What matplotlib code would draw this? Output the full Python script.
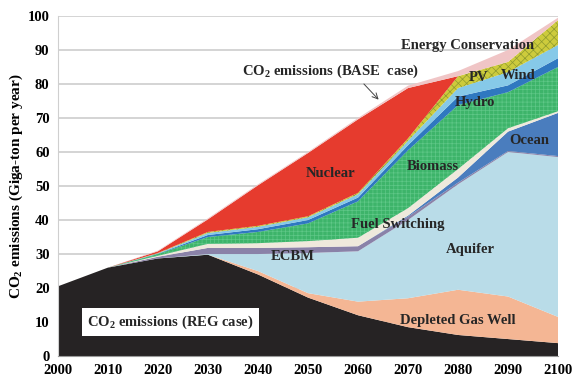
import matplotlib
matplotlib.use("Agg")
import matplotlib.pyplot as plt

plt.rcParams["font.family"] = ["Liberation Serif", "DejaVu Serif"]
plt.rcParams["font.weight"] = "bold"
plt.rcParams["mathtext.fontset"] = "custom"
plt.rcParams["mathtext.rm"] = "Liberation Serif:bold"
plt.rcParams["mathtext.it"] = "Liberation Serif:bold"
plt.rcParams["mathtext.bf"] = "Liberation Serif:bold"
plt.rcParams["mathtext.default"] = "rm"
plt.rcParams["hatch.linewidth"] = 0.5

# decades on the x axis
years = [2000, 2010, 2020, 2030, 2040, 2050, 2060, 2070, 2080, 2090, 2100]

# layer thicknesses (Gt CO2 / year), bottom to top
reg_case = [20.5, 26.0, 28.7, 29.8, 24.0, 17.2, 12.0, 8.5, 6.2, 5.0, 3.8]
depleted_gas = [0, 0, 0, 0, 1.0, 1.3, 4.0, 8.5, 13.3, 12.5, 7.7]
aquifer = [0, 0, 0, 0.2, 5.0, 11.8, 14.8, 23.0, 31.0, 42.5, 47.0]
ecbm = [0, 0, 0.5, 1.8, 1.8, 1.7, 1.5, 1.0, 0.5, 0.3, 0.3]
ocean = [0, 0, 0, 0, 0, 0, 0, 0.3, 1.5, 5.7, 12.7]
fuel_switching = [0, 0, 0.3, 1.2, 1.4, 1.8, 2.5, 2.2, 2.5, 1.0, 0.5]
biomass = [0, 0, 0.5, 2.0, 3.3, 5.2, 10.7, 17.0, 18.8, 10.6, 13.0]
hydro = [0, 0, 0.1, 0.6, 0.8, 1.0, 1.1, 1.5, 2.5, 2.0, 2.6]
wind = [0, 0, 0.1, 0.6, 0.7, 0.8, 1.0, 1.3, 2.5, 3.9, 3.9]
pv = [0, 0, 0.1, 0.3, 0.3, 0.3, 0.4, 0.7, 3.5, 3.0, 7.3]
nuclear = [0, 0, 0.5, 3.7, 11.9, 18.6, 21.6, 14.8, 0, 0, 0]
energy_conservation = [0, 0, 0.2, 0.3, 0.3, 0.3, 0.4, 0.7, 1.5, 3.5, 0.7]

layers = [reg_case, depleted_gas, aquifer, ecbm, ocean, fuel_switching,
          biomass, hydro, wind, pv, nuclear, energy_conservation]
colors = ["#262324", "#F4B694", "#B9DCE8", "#8A82A8", "#4A7DBE", "#EFE9DC",
          "#3DB46A", "#2F78C0", "#86C9E8", "#CDCB3C", "#E63B2E", "#F0C5C6"]

fig = plt.figure(figsize=(5.73, 3.80), dpi=100)
ax = fig.add_axes([0.101, 0.063, 0.873, 0.895])

polys = ax.stackplot(years, *layers, colors=colors, linewidth=0, zorder=2)
# checker texture on biomass and PV
polys[6].set_hatch("++++")
polys[6].set_edgecolor("#5FC788")
polys[6].set_linewidth(0)
polys[9].set_hatch("xxxx")
polys[9].set_edgecolor("#8E9A2E")
polys[9].set_linewidth(0)

ax.set_xlim(2000, 2100)
ax.set_ylim(0, 100)
ax.set_xticks(range(2000, 2101, 10))
ax.set_yticks(range(0, 101, 10))
ax.tick_params(length=0, labelsize=10.5, pad=6)
ax.yaxis.grid(True, color="#d4d4d4", linewidth=1.4, zorder=0)
ax.set_axisbelow(True)
for s in ("top", "right"):
    ax.spines[s].set_visible(False)
ax.spines["left"].set_color("#cfcfcf")
ax.spines["bottom"].set_color("#9a9a9a")
ax.set_ylabel("CO$_2$ emissions (Giga-ton per year)", fontsize=11,
              fontweight="bold", labelpad=2)

tc = "#262626"
kw = dict(fontsize=10.5, fontweight="bold", color=tc, ha="center", va="center", zorder=5)
ax.text(2022.5, 10.0, "CO$_2$ emissions (REG case)", **kw,
        bbox=dict(facecolor="white", edgecolor="none", pad=4))
ax.text(2080, 10.5, "Depleted Gas Well", **kw)
ax.text(2082.5, 31.2, "Aquifer", **kw)
ax.text(2047, 29.4, "ECBM", **kw)
ax.text(2068, 38.8, "Fuel Switching", **kw)
ax.text(2075, 55.6, "Biomass", **kw)
ax.text(2054.5, 53.8, "Nuclear", **kw)
ax.text(2094.2, 63.5, "Ocean", **kw)
ax.text(2083.4, 74.7, "Hydro", **kw)
ax.text(2084, 81.8, "PV", **kw)
ax.text(2092, 82.6, "Wind", **kw)
ax.text(2082, 91.2, "Energy Conservation", **kw)
ax.text(2054.5, 83.6, "CO$_2$ emissions (BASE  case)", **kw)
ax.annotate("", xy=(2064.5, 74.8), xytext=(2060.8, 80.6),
            arrowprops=dict(arrowstyle="->", color="#444444", lw=0.7), zorder=5)

fig.savefig("out.png", dpi=100)
